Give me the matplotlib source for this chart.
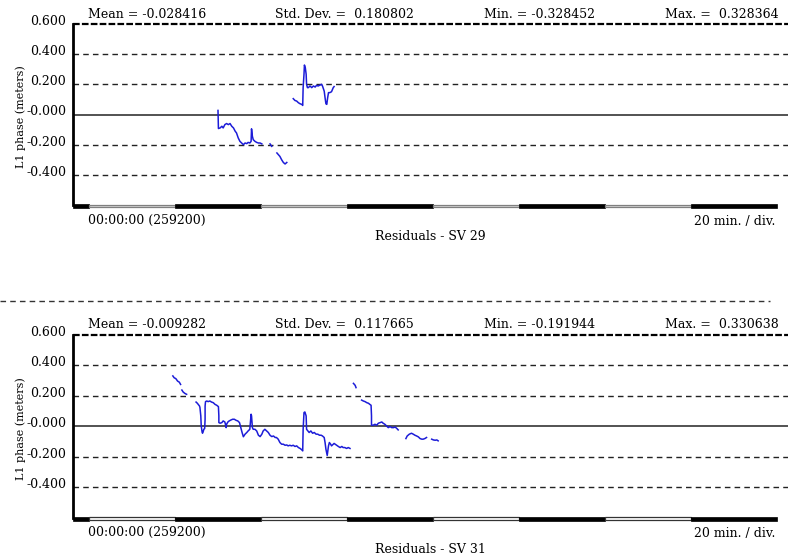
import numpy as np
import matplotlib
matplotlib.use("Agg")
import matplotlib.pyplot as plt
from matplotlib.patches import Rectangle
import matplotlib.transforms as mtransforms

nan = np.nan

# Elapsed time (minutes from 00:00:00) and L1 phase residuals (m); NaN marks a data gap
sv29_minutes = [30.0, 30.1, 30.5, 30.9, 31.2, 31.6, 32.0, 32.4, 32.8, 33.2, 33.6, 34.0, 34.3,
                34.7, 35.1, 35.5, 35.9, 36.3, 36.7, 37.0, 37.4, 37.7, 37.8, 38.0, 38.2, 38.6,
                39.0, 39.4, 39.8, 40.2, nan,
                42.1, 42.5, nan,
                43.7, 44.4, 44.8, 45.2, 45.6, 46.0, nan,
                47.5, 47.9, 48.3, 48.7, 49.1, 49.5, 49.7, 49.8, 50.0, 50.1, 50.3, 50.5, 50.6,
                50.8, 51.0, 51.4, 51.8, 52.2, 52.6, 52.9, 53.3, 53.7, 54.1, 54.3, 54.7, 54.9,
                55.1, 55.3, 55.5, 55.7, 56.0, 56.4, 56.8, 57.0]
sv29_resid = [0.027, -0.093, -0.089, -0.078, -0.089, -0.067, -0.060, -0.067, -0.060, -0.078,
              -0.089, -0.111, -0.122, -0.155, -0.178, -0.189, -0.200, -0.189, -0.193, -0.185,
              -0.189, -0.178, -0.095, -0.145, -0.167, -0.178, -0.185, -0.189, -0.189, -0.195, nan,
              -0.195, -0.211, nan,
              -0.255, -0.278, -0.300, -0.318, -0.328, -0.318, nan,
              0.105, 0.093, 0.089, 0.078, 0.071, 0.067, 0.060, 0.178, 0.267, 0.328, 0.311,
              0.267, 0.200, 0.178, 0.178, 0.189, 0.178, 0.189, 0.182, 0.193, 0.189, 0.195,
              0.200, 0.189, 0.155, 0.111, 0.071, 0.067, 0.111, 0.145, 0.145, 0.151, 0.178, 0.185]

sv31_minutes = [19.5, 19.8, 20.2, 20.6, 21.0, 21.3, nan,
                21.6, 21.9, 22.3, 22.7, nan,
                24.9, 25.2, 25.7, 25.8, 26.0, 26.1, 26.3, 26.4, 26.6, 26.7, 26.9, 27.0, 27.0,
                27.1, 27.4, 27.7, 28.1, 28.5, 28.9, 29.3, 29.7, 30.1, 30.2, 30.2, 30.5, 30.9,
                31.2, 31.6, 31.9, 32.0, 32.3, 32.6, 33.0, 33.4, 33.8, 34.2, 34.6, 35.0, 35.3,
                35.6, 35.9, 36.3, 36.7, 37.0, 37.4, 37.7, 37.8, 38.0, 38.2, 38.6, 39.0, 39.4,
                39.8, 40.2, 40.5, 40.9, 41.3, 41.7, 42.1, 42.5, 42.9, 43.3, 43.6, 44.0, 44.4,
                44.8, 45.2, 45.6, 46.0, 46.3, 46.7, 47.1, 47.5, 47.9, 48.3, 48.7, 49.1, 49.5,
                49.7, 49.8, 50.0, 50.2, 50.5, 50.6, 50.9, 51.2, 51.6, 52.0, 52.4, 52.8, 53.2,
                53.6, 54.0, 54.3, 54.7, 54.9, 55.1, 55.4, 55.7, 55.9, 56.2, 56.4, 56.8, 57.0,
                57.6, 58.0, 58.4, 58.8, 59.1, 59.5, 59.9, 60.3, 60.7, nan,
                61.5, 61.9, 62.1, nan,
                63.4, 63.8, 64.2, 64.6, 65.0, 65.3, 65.6, 65.7, 65.7, 66.1, 66.5, 66.9, 67.3,
                67.7, 68.1, 68.4, 68.8, 69.2, 69.6, 70.0, 70.4, 70.8, 71.2, 71.6, 71.9, nan,
                73.7, 74.0, 74.5, 75.0, 75.4, 75.8, 76.2, 76.6, 77.0, 77.4, 77.7, 78.1, 78.5, nan,
                79.7, 80.1, 80.5, 80.9, 81.2]
sv31_resid = [0.331, 0.319, 0.313, 0.297, 0.290, 0.275, nan,
              0.238, 0.225, 0.216, 0.210, nan,
              0.159, 0.151, 0.133, 0.123, 0.068, 0.002, -0.037, -0.046, -0.031, -0.020, -0.015,
              0.046, 0.133, 0.162, 0.166, 0.162, 0.166, 0.159, 0.155, 0.144, 0.138, 0.129, 0.068,
              0.024, 0.020, 0.024, 0.035, 0.028, -0.009, 0.013, 0.028, 0.035, 0.041, 0.046, 0.046,
              0.039, 0.035, 0.024, -0.009, -0.041, -0.069, -0.052, -0.041, -0.031, -0.020, 0.079,
              0.068, -0.009, -0.020, -0.020, -0.031, -0.059, -0.068, -0.052, -0.031, -0.020,
              -0.031, -0.041, -0.059, -0.068, -0.064, -0.074, -0.074, -0.085, -0.107, -0.118,
              -0.118, -0.125, -0.123, -0.129, -0.125, -0.129, -0.125, -0.133, -0.129, -0.140,
              -0.146, -0.155, -0.162, -0.020, 0.090, 0.094, 0.068, -0.020, -0.031, -0.041, -0.031,
              -0.046, -0.041, -0.052, -0.052, -0.059, -0.059, -0.064, -0.074, -0.107, -0.151,
              -0.192, -0.129, -0.107, -0.118, -0.129, -0.118, -0.113, -0.125, -0.133, -0.140,
              -0.133, -0.140, -0.140, -0.146, -0.140, -0.146, nan,
              0.282, 0.269, 0.254, nan,
              0.172, 0.166, 0.162, 0.155, 0.151, 0.144, 0.138, 0.068, 0.007, 0.007, 0.013, 0.007,
              0.020, 0.024, 0.028, 0.020, 0.013, 0.002, -0.009, -0.002, -0.009, -0.009, -0.005,
              -0.015, -0.024, nan,
              -0.081, -0.064, -0.052, -0.046, -0.052, -0.059, -0.064, -0.070, -0.081, -0.085,
              -0.085, -0.081, -0.074, nan,
              -0.085, -0.090, -0.092, -0.090, -0.096]

sv29_stats = ["Mean = -0.028416", "Std. Dev. =  0.180802", "Min. = -0.328452", "Max. =  0.328364"]
sv31_stats = ["Mean = -0.009282", "Std. Dev. =  0.117665", "Min. = -0.191944", "Max. =  0.330638"]

y_ticks = [0.6, 0.4, 0.2, 0.0, -0.2, -0.4]
y_tick_labels = ["0.600", "0.400", "0.200", "-0.000", "-0.200", "-0.400"]

start_label = "00:00:00 (259200)"
scale_label = "20 min. / div."
y_label = "L1 phase (meters)"
titles = ["Residuals - SV 29", "Residuals - SV 31"]

W, H = 788, 556
plt.rcParams["font.family"] = ["DejaVu Serif"]
fig = plt.figure(figsize=(W / 100, H / 100), dpi=100)


def fx(x):
    return x / W


def fy(y):
    return 1 - y / H


def panel(top_px, bottom_px, minutes, resid, stats, title, seg_fill, seg_edge):
    ax = fig.add_axes([fx(73), fy(bottom_px), 1 - fx(73), (bottom_px - top_px) / H])
    ax.set_xlim(-3.72, 162.56)
    ax.set_ylim(-0.6, 0.6)
    for s in ["top", "right", "bottom"]:
        ax.spines[s].set_visible(False)
    ax.spines["left"].set_linewidth(2)
    ax.spines["left"].set_color("black")

    ax.axhline(0.6, color="black", lw=1.6, ls=(0, (3, 1)), clip_on=False)
    for v in [0.4, 0.2, -0.2, -0.4]:
        ax.axhline(v, color="#222222", lw=1.0, ls=(0, (4, 3)))
    ax.axhline(0.0, color="#444444", lw=1.3)

    ax.plot(minutes, resid, color="#1c1cd8", lw=1.1, solid_joinstyle="round")

    ax.set_xticks([])
    ax.set_yticks(y_ticks, y_tick_labels)
    ax.tick_params(axis="y", length=0, pad=5, labelsize=9)
    shift = mtransforms.ScaledTranslation(0, 3 / 72, fig.dpi_scale_trans)
    for lab in ax.get_yticklabels():
        lab.set_transform(lab.get_transform() + shift)

    # time-division bar along the bottom edge
    trans = mtransforms.blended_transform_factory(ax.transData, ax.transAxes)
    h_ax = (bottom_px - top_px)
    y0 = -3.0 / h_ax
    hh = 4.0 / h_ax
    edges = [-3.72] + list(range(0, 161, 20))
    for i in range(len(edges) - 1):
        a, b = edges[i], edges[i + 1]
        if i % 2 == 0:
            r = Rectangle((a, y0), b - a, hh, transform=trans, facecolor="black",
                          edgecolor="black", lw=0.5, clip_on=False)
        else:
            r = Rectangle((a, y0 + 0.6 / h_ax), b - a, hh - 1.2 / h_ax, transform=trans,
                          facecolor=seg_fill, edgecolor=seg_edge, lw=0.9, clip_on=False)
        ax.add_patch(r)

    # header statistics
    for xp, txt in zip([88, 275, 484, 665], stats):
        fig.text(fx(xp), fy(top_px - 10), txt, ha="left", va="center", fontsize=9)

    fig.text(fx(21), fy((top_px + bottom_px) / 2 + 2), y_label, rotation=90,
             ha="center", va="center", fontsize=8)
    fig.text(fx(88), fy(bottom_px + 15), start_label, ha="left", va="center", fontsize=9)
    fig.text(fx(775), fy(bottom_px + 16), scale_label, ha="right", va="center", fontsize=9)
    fig.text(fx(430), fy(bottom_px + 32), title, ha="center", va="center", fontsize=9)
    return ax


panel(24, 205, sv29_minutes, sv29_resid, sv29_stats, titles[0], "#d8d8d8", "#808080")
panel(335, 517.5, sv31_minutes, sv31_resid, sv31_stats, titles[1], "white", "#333333")

# separator between the two plots
fig.add_artist(plt.Line2D([0, fx(770)], [fy(301), fy(301)], color="#333333", lw=1.0,
                          ls=(0, (4, 3))))

fig.savefig("out.png", dpi=100)
